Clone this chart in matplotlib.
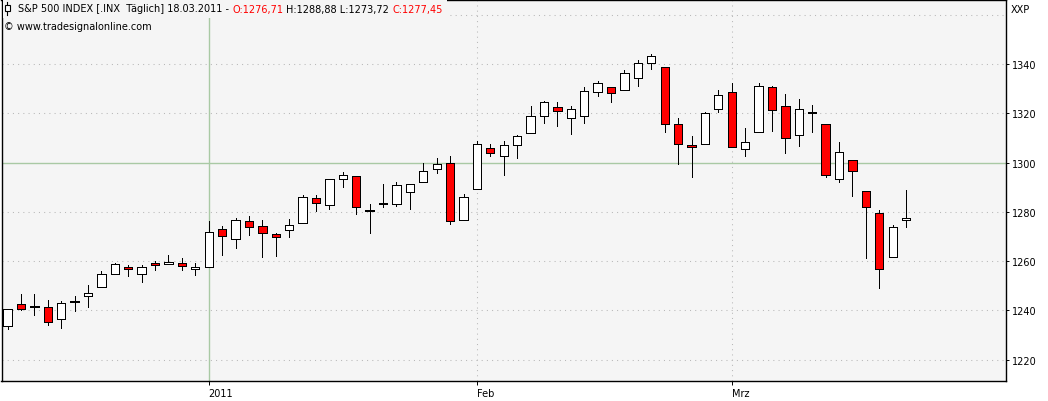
import matplotlib
matplotlib.use('Agg')
import matplotlib.pyplot as plt
from matplotlib.patches import Rectangle
from matplotlib.lines import Line2D

# S&P 500 Tageskerzen, 10.12.2010 - 18.03.2011
dates = ['10.12.2010', '13.12.2010', '14.12.2010', '15.12.2010', '16.12.2010', '17.12.2010',
         '20.12.2010', '21.12.2010', '22.12.2010', '23.12.2010', '27.12.2010', '28.12.2010',
         '29.12.2010', '30.12.2010', '31.12.2010',
         '03.01.2011', '04.01.2011', '05.01.2011', '06.01.2011', '07.01.2011', '10.01.2011',
         '11.01.2011', '12.01.2011', '13.01.2011', '14.01.2011', '18.01.2011', '19.01.2011',
         '20.01.2011', '21.01.2011', '24.01.2011', '25.01.2011', '26.01.2011', '27.01.2011',
         '28.01.2011', '31.01.2011',
         '01.02.2011', '02.02.2011', '03.02.2011', '04.02.2011', '07.02.2011', '08.02.2011',
         '09.02.2011', '10.02.2011', '11.02.2011', '14.02.2011', '15.02.2011', '16.02.2011',
         '17.02.2011', '18.02.2011', '22.02.2011', '23.02.2011', '24.02.2011', '25.02.2011',
         '28.02.2011',
         '01.03.2011', '02.03.2011', '03.03.2011', '04.03.2011', '07.03.2011', '08.03.2011',
         '09.03.2011', '10.03.2011', '11.03.2011', '14.03.2011', '15.03.2011', '16.03.2011',
         '17.03.2011', '18.03.2011']

opens = [1233.85, 1242.52, 1241.84, 1241.58, 1236.34, 1243.63, 1245.76, 1249.43, 1254.94, 1257.53,
         1254.66, 1259.10, 1258.78, 1259.44, 1256.76,
         1257.62, 1272.95, 1268.78, 1276.29, 1274.41, 1270.84, 1272.58, 1275.65, 1285.78, 1282.90,
         1293.22, 1294.52, 1280.85, 1283.63, 1283.29, 1288.17, 1291.97, 1297.51, 1299.63, 1276.50,
         1289.14, 1305.91, 1302.77, 1307.01, 1311.85, 1318.76, 1322.48, 1318.13, 1318.66, 1328.73,
         1330.43, 1329.51, 1334.37, 1340.38, 1338.91, 1315.44, 1307.09, 1307.34, 1321.61,
         1328.64, 1305.47, 1312.37, 1330.73, 1322.72, 1311.05, 1319.92, 1315.72, 1293.43, 1301.19,
         1288.46, 1279.46, 1261.61, 1276.71]
highs = [1240.40, 1246.73, 1246.59, 1244.25, 1243.75, 1245.81, 1250.20, 1255.82, 1259.39, 1258.59,
         1258.43, 1259.90, 1262.60, 1261.09, 1259.34,
         1276.17, 1274.12, 1277.63, 1278.17, 1276.83, 1271.52, 1277.25, 1286.87, 1286.70, 1293.24,
         1296.06, 1294.60, 1283.35, 1291.21, 1291.93, 1291.26, 1299.74, 1301.63, 1302.67, 1287.17,
         1308.86, 1307.61, 1308.60, 1311.00, 1322.85, 1324.87, 1324.54, 1322.76, 1330.79, 1332.96,
         1330.43, 1337.61, 1341.50, 1344.07, 1338.91, 1317.91, 1310.91, 1320.61, 1329.38,
         1332.09, 1314.19, 1332.28, 1331.08, 1327.68, 1325.74, 1323.21, 1315.72, 1308.35, 1301.19,
         1288.46, 1280.91, 1274.46, 1288.88]
lows = [1232.58, 1240.34, 1238.17, 1234.01, 1232.85, 1239.87, 1241.51, 1249.43, 1254.94, 1254.05,
        1251.48, 1256.22, 1258.78, 1256.32, 1254.19,
        1257.62, 1262.66, 1265.36, 1270.43, 1261.70, 1262.18, 1269.62, 1275.65, 1280.47, 1281.24,
        1290.16, 1278.92, 1271.26, 1282.07, 1282.47, 1281.07, 1291.97, 1295.61, 1275.10, 1276.50,
        1289.14, 1302.62, 1294.83, 1301.67, 1311.85, 1316.03, 1314.89, 1311.74, 1316.08, 1326.90,
        1324.61, 1329.51, 1331.00, 1338.12, 1312.33, 1299.55, 1294.26, 1307.34, 1320.55,
        1306.14, 1302.58, 1312.37, 1312.59, 1303.99, 1306.86, 1312.27, 1294.21, 1291.99, 1286.37,
        1261.12, 1249.05, 1261.61, 1273.72]
closes = [1240.40, 1240.46, 1241.59, 1235.23, 1242.87, 1243.91, 1247.08, 1254.60, 1258.84, 1256.77,
          1257.54, 1258.51, 1259.78, 1257.88, 1257.64,
          1271.87, 1270.20, 1276.56, 1273.85, 1271.50, 1269.75, 1274.48, 1285.96, 1283.76, 1293.24,
          1295.02, 1281.92, 1280.26, 1283.35, 1290.84, 1291.18, 1296.63, 1299.54, 1276.34, 1286.12,
          1307.59, 1304.03, 1307.10, 1310.87, 1319.05, 1324.57, 1320.88, 1321.87, 1329.15, 1332.32,
          1328.01, 1336.32, 1340.43, 1343.01, 1315.44, 1307.40, 1306.10, 1319.88, 1327.22,
          1306.33, 1308.44, 1330.97, 1321.15, 1310.13, 1321.82, 1320.02, 1295.11, 1304.28, 1296.39,
          1281.87, 1256.88, 1273.72, 1277.45]

price_ticks = [1220, 1240, 1260, 1280, 1300, 1320, 1340]
grid_levels = [1220, 1240, 1260, 1280, 1300, 1320, 1340, 1360]
month_names = {'01': '2011', '02': 'Feb', '03': 'Mrz'}

W, H = 1048, 402
BG = '#f5f5f5'
GREEN = '#a9c9a4'
DOT = '#b8b8b8'
FS = 7


def fx(px):
    return px / W


def fy(py):
    return 1 - py / H


fig = plt.figure(figsize=(W / 100, H / 100), dpi=100)
fig.patch.set_facecolor('white')
ax = fig.add_axes([fx(1.5), fy(382), fx(1006) - fx(1.5), fy(0.5) - fy(382)])
ax.set_facecolor(BG)

# kerzen
for i, (o, h, l, c) in enumerate(zip(opens, highs, lows, closes)):
    ax.vlines(i, l, h, color='black', lw=0.72, zorder=3, antialiased=False)
    col = 'white' if c >= o else 'red'
    body = max(abs(c - o), 0.4)  # doji noch sichtbar als balken
    ax.add_patch(Rectangle((i - 0.31, min(o, c)), 0.62, body,
                           facecolor=col, edgecolor='black', lw=0.72, zorder=4, antialiased=False))

# monatsanfaenge aus den daten
month_pos = []
month_lab = []
for i, d in enumerate(dates):
    m = d[3:5]
    if m in month_names and (i == 0 or dates[i - 1][3:5] != m):
        month_pos.append(i)
        month_lab.append(month_names[m])

for p, lab in zip(month_pos, month_lab):
    if lab == '2011':
        ax.axvline(p, color=GREEN, lw=1.0, zorder=1)
    else:
        ax.axvline(p, color=DOT, lw=0.75, ls=(0, (1, 4)), zorder=1)

for v in grid_levels:
    if v == 1300:
        ax.axhline(v, color=GREEN, lw=1.0, zorder=1)
    else:
        ax.axhline(v, color=DOT, lw=0.75, ls=(0, (1, 4)), zorder=1)

ax.set_xlim(-0.45, 74.45)
ax.set_ylim(1211.4, 1366.1)

ax.yaxis.tick_right()
ax.set_yticks(price_ticks)
ax.set_yticklabels([str(v) for v in price_ticks])
ax.set_xticks(month_pos)
ax.set_xticklabels(month_lab)
ax.tick_params(axis='y', direction='out', length=2.5, width=0.7, pad=1.5, labelsize=FS, colors='black')
ax.tick_params(axis='x', direction='out', length=3, width=0.7, pad=2, labelsize=FS, colors='black')
for t in ax.get_xticklabels():
    t.set_horizontalalignment('left')

for s in ax.spines.values():
    s.set_color('black')
    s.set_linewidth(1.0)

# kopfzeile
renderer = fig.canvas.get_renderer()


def fmt(v):
    return f'{v:.2f}'.replace('.', ',')


pieces = [
    ('S&P 500 INDEX [.INX  Täglich] ' + dates[-1] + ' -', 'black'),
    ('O:' + fmt(opens[-1]), 'red'),
    ('H:' + fmt(highs[-1]) + ' L:' + fmt(lows[-1]), 'black'),
    ('C:' + fmt(closes[-1]), 'red'),
]

t1 = fig.text(0, 0, 'xx', fontsize=FS)
t2 = fig.text(0, 0, 'x x', fontsize=FS)
space_w = t2.get_window_extent(renderer).width - t1.get_window_extent(renderer).width
t1.remove()
t2.remove()

xpos = 18
for s, col in pieces:
    t = fig.text(fx(xpos), fy(9.5), s, color=col, fontsize=FS, va='center', ha='left', zorder=5)
    xpos += t.get_window_extent(renderer).width + space_w

# deckt das gitter hinter der kopfzeile ab
fig.add_artist(Rectangle((fx(2.5), fy(19)), fx(xpos + 1) - fx(2.5), fy(1) - fy(19),
                         transform=fig.transFigure, facecolor=BG, edgecolor='none', zorder=2))

# kleines kerzensymbol
fig.add_artist(Line2D([fx(7), fx(7)], [fy(3), fy(16)], transform=fig.transFigure,
                      color='black', lw=0.8, zorder=5))
fig.add_artist(Rectangle((fx(4.5), fy(12)), fx(5), fy(6) - fy(12), transform=fig.transFigure,
                         facecolor='white', edgecolor='black', lw=0.8, zorder=6))

fig.text(fx(4), fy(26.5), '© www.tradesignalonline.com', fontsize=FS, va='center', ha='left', zorder=5)
fig.text(fx(1011), fy(10), 'XXP', fontsize=FS, va='center', ha='left')

fig.savefig('out.png', dpi=100, facecolor='white')
